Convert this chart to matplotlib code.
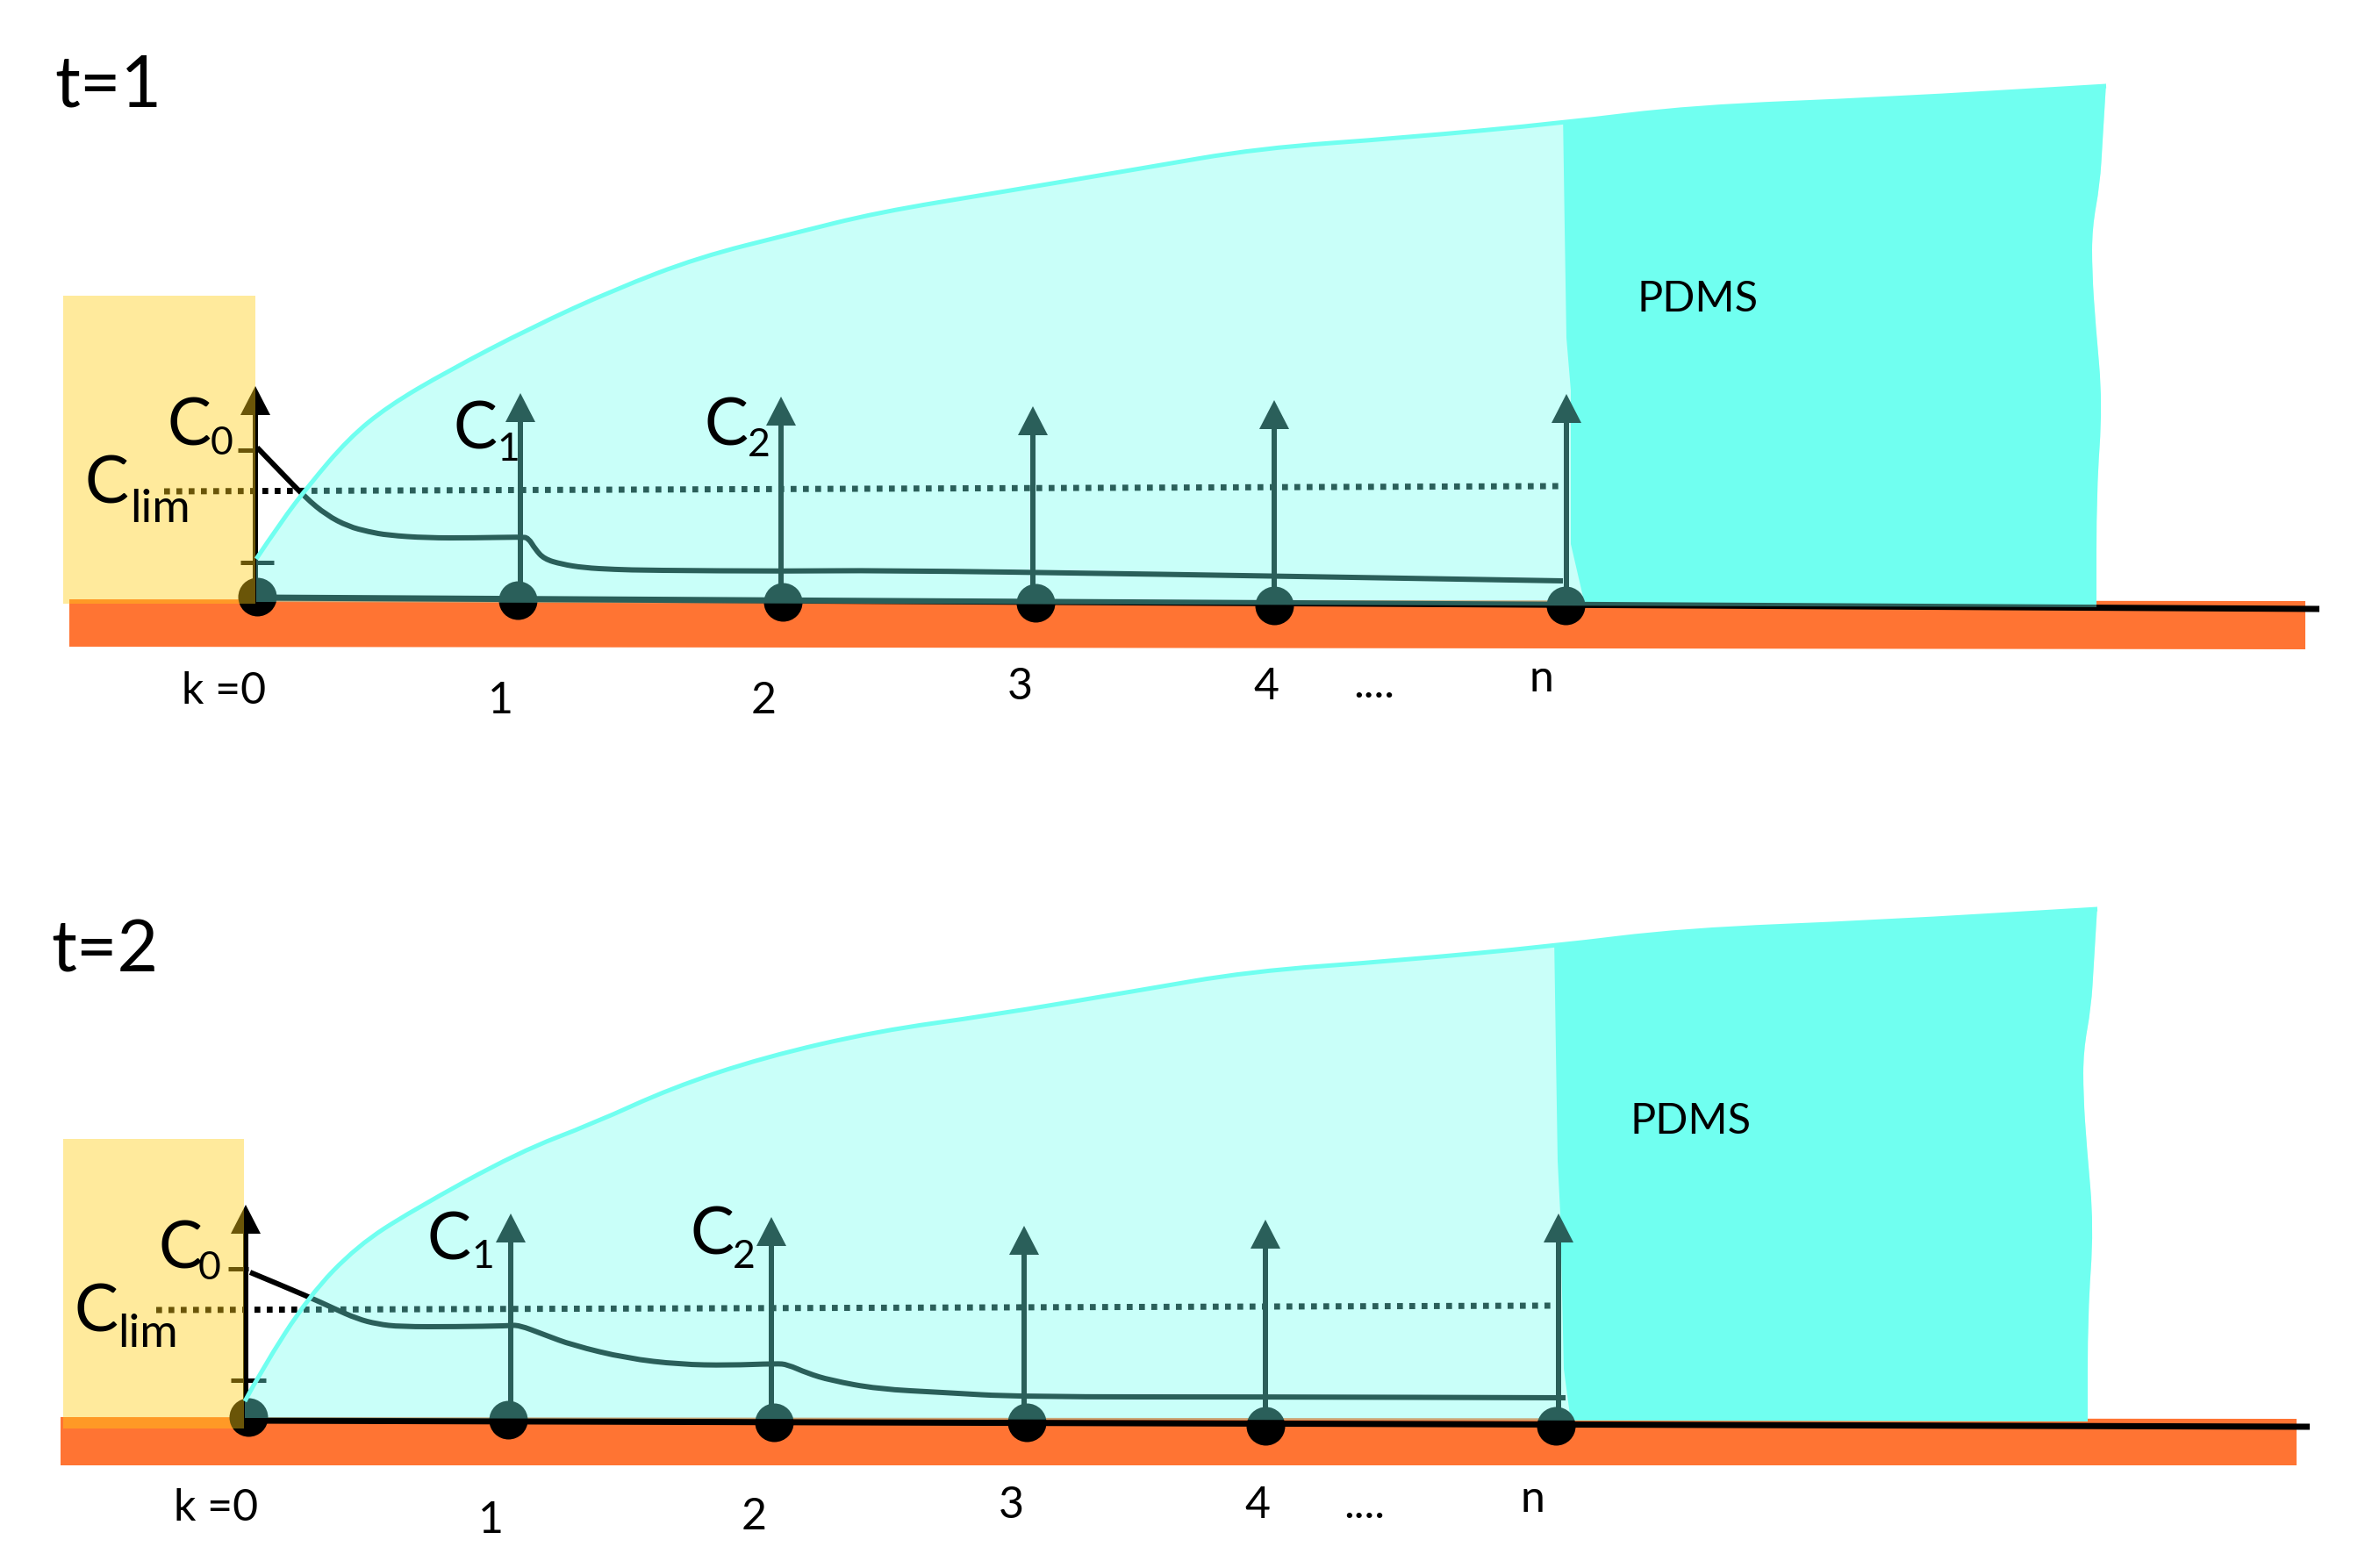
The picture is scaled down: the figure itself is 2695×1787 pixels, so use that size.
import matplotlib
matplotlib.use("Agg")
import matplotlib.pyplot as plt
from matplotlib.path import Path
from matplotlib.patches import PathPatch

plt.rcParams["font.family"] = ["Lato", "DejaVu Sans"]

W, H = 2695, 1787
PX = 72 / 100  # one pixel in points at dpi 100

ORANGE = "#ff7433"
CYAN = (112 / 255, 1.0, 240 / 255)
YELLOW = (1.0, 205 / 255, 20 / 255)

# --- t=1 (x along the channel, y down the page)
t1_site_x = [293, 590, 892, 1180, 1452, 1784]
t1_site_y = [680, 684, 686, 687, 690, 690]
t1_arrow_x = [291, 593, 890, 1177, 1452, 1785]
t1_arrow_tip = [440, 448, 452, 463, 456, 449]
t1_curve_x = [293, 293, 320, 348, 372, 397, 420, 442, 486, 540, 594, 602, 610, 620, 640, 665, 700, 740, 900, 1000, 1300, 1781, 1781]
t1_curve_y = [510, 510, 538, 567, 587, 600, 606, 610, 613, 613, 612, 613, 626, 637, 643, 647, 649, 650, 651, 650, 654, 662, 662]
t1_surface_x = [292, 320, 352, 397, 442, 510, 606, 700, 797, 900, 1000, 1140, 1300, 1434, 1600, 1782, 1928, 2150, 2400, 2400]
t1_surface_y = [637, 595, 553, 500, 463, 423, 373, 330, 293, 267, 242, 219, 192, 169, 157, 140, 122, 113, 98, 98]
t1_pdms_left_x = [1780, 1783, 1785, 1790, 1790, 1806]
t1_pdms_left_y = [60, 260, 385, 445, 620, 689]
t1_pdms_right_x = [2400, 2396, 2393, 2384, 2384, 2388, 2396, 2389, 2389]
t1_pdms_right_y = [94, 160, 210, 260, 310, 370, 460, 560, 692]
t1_limit_x = [187, 1778]
t1_limit_y = [560, 554]

# --- t=2
t2_site_x = [283, 579, 882, 1170, 1442, 1773]
t2_site_y = [1615, 1618, 1621, 1621, 1625, 1625]
t2_arrow_x = [280, 582, 879, 1167, 1442, 1776]
t2_arrow_tip = [1373, 1383, 1387, 1397, 1390, 1383]
t2_curve_x = [285, 285, 352, 380, 407, 430, 456, 520, 579, 591, 620, 652, 714, 775, 830, 885, 897, 920, 946, 1000, 1075, 1161, 1442, 1784, 1784]
t2_curve_y = [1450, 1450, 1478, 1491, 1503, 1509, 1512, 1512, 1511, 1510, 1521, 1533, 1548, 1555, 1556, 1554, 1555, 1565, 1573, 1583, 1587, 1592, 1592, 1593, 1593]
t2_surface_x = [279, 297, 352, 407, 469, 591, 677, 765, 870, 1000, 1130, 1290, 1424, 1590, 1772, 1918, 2140, 2390, 2390]
t2_surface_y = [1597, 1563, 1477, 1420, 1380, 1313, 1280, 1240, 1205, 1175, 1157, 1130, 1107, 1095, 1078, 1060, 1051, 1036, 1036]
t2_pdms_left_x = [1770, 1773, 1775, 1778, 1782, 1790]
t2_pdms_left_y = [1000, 1198, 1323, 1383, 1560, 1620]
t2_pdms_right_x = [2390, 2386, 2383, 2374, 2374, 2378, 2386, 2379, 2379]
t2_pdms_right_y = [1032, 1098, 1148, 1198, 1248, 1308, 1398, 1498, 1620]
t2_limit_x = [178, 1768]
t2_limit_y = [1493, 1488]

site_labels = ["k =0", "1", "2", "3", "4", "....", "n"]


def smooth(xs, ys):
    # quadratic segments through midpoints, so the read points need no extra filling in
    verts = [(xs[0], ys[0])]
    codes = [Path.MOVETO]
    for i in range(1, len(xs) - 1):
        verts.append((xs[i], ys[i]))
        codes.append(Path.CURVE3)
        verts.append(((xs[i] + xs[i + 1]) / 2, (ys[i] + ys[i + 1]) / 2))
        codes.append(Path.CURVE3)
    verts.append((xs[-1], ys[-1]))
    codes.append(Path.LINETO)
    return verts, codes


def draw_panel(ax, site_x, site_y, arrow_x, arrow_tip, curve_x, curve_y,
               surface_x, surface_y, left_x, left_y, right_x, right_y,
               limit_x, limit_y, yellow, orange, base, ticks, overlay_bottom):
    # substrate
    ox0, ox1, oy0, oy1, oy1r = orange
    ax.fill([ox0, ox1, ox1, ox0], [oy0, oy0 + 2, oy1r, oy1], color=ORANGE, lw=0, zorder=1)

    # film outline: top edge, right edge, then back along the substrate
    top_v, top_c = smooth(surface_x, surface_y)
    right_v, right_c = smooth(right_x, right_y)
    right_c[0] = Path.LINETO
    film_v = top_v + right_v + [(surface_x[0], overlay_bottom), (surface_x[0], surface_y[0])]
    film_c = top_c + right_c + [Path.LINETO, Path.CLOSEPOLY]
    film = PathPatch(Path(film_v, film_c), facecolor=CYAN, edgecolor="none", alpha=0.375, zorder=4)
    ax.add_patch(film)

    # solid PDMS block, same colour as the film tint, cut to the film outline
    block_x = left_x + [right_x[-1] + 40, right_x[0] + 40]
    block_y = left_y + [left_y[-1], left_y[0]]
    block = ax.fill(block_x, block_y, color=CYAN, lw=0, zorder=2)[0]
    block.set_clip_path(film.get_path(), film.get_transform())

    # everything below is black ink, tinted by the layers drawn over it
    ax.plot(base[0], base[1], color="black", lw=7 * PX, solid_capstyle="butt", zorder=3)
    ax.plot(limit_x, limit_y, color="black", lw=7 * PX, ls=(0, (0.95, 1.05)), dash_capstyle="butt", zorder=3)
    curve_v, curve_c = smooth(curve_x, curve_y)
    ax.add_patch(PathPatch(Path(curve_v, curve_c), facecolor="none", edgecolor="black", lw=6 * PX, zorder=3))
    for (x0, x1, y) in ticks:
        ax.plot([x0, x1], [y, y], color="black", lw=5 * PX, solid_capstyle="butt", zorder=3)
    for i in range(len(site_x)):
        ax.plot([arrow_x[i], arrow_x[i]], [site_y[i], arrow_tip[i] + 30], color="black", lw=6 * PX,
                solid_capstyle="butt", zorder=3)
        ax.fill([arrow_x[i] - 17, arrow_x[i], arrow_x[i] + 17],
                [arrow_tip[i] + 33, arrow_tip[i], arrow_tip[i] + 33], color="black", lw=0, zorder=3)
    ax.plot(site_x, site_y, "o", color="black", ms=44 * PX, mew=0, zorder=3)

    # droplet
    yx0, yx1, yy0, yy1 = yellow
    ax.fill([yx0, yx1, yx1, yx0], [yy0, yy0, yy1, yy1], color=YELLOW, alpha=0.42, lw=0, zorder=5)

    ax.add_patch(PathPatch(Path(top_v, top_c), facecolor="none", edgecolor=CYAN, lw=5 * PX, zorder=6))


fig = plt.figure(figsize=(W / 100, H / 100), dpi=100)
ax = fig.add_axes([0, 0, 1, 1])
ax.set_xlim(0, W)
ax.set_ylim(H, 0)
ax.axis("off")

draw_panel(ax, t1_site_x, t1_site_y, t1_arrow_x, t1_arrow_tip, t1_curve_x, t1_curve_y,
           t1_surface_x, t1_surface_y, t1_pdms_left_x, t1_pdms_left_y, t1_pdms_right_x, t1_pdms_right_y,
           t1_limit_x, t1_limit_y,
           yellow=(72, 291, 337, 688), orange=(79, 2627, 683, 737, 740),
           base=([293, 2643], [681, 694]),
           ticks=[(271, 293, 513), (274, 312, 641)], overlay_bottom=686)

draw_panel(ax, t2_site_x, t2_site_y, t2_arrow_x, t2_arrow_tip, t2_curve_x, t2_curve_y,
           t2_surface_x, t2_surface_y, t2_pdms_left_x, t2_pdms_left_y, t2_pdms_right_x, t2_pdms_right_y,
           t2_limit_x, t2_limit_y,
           yellow=(72, 278, 1298, 1628), orange=(69, 2617, 1615, 1670, 1670),
           base=([283, 2632], [1619, 1626]),
           ticks=[(260, 283, 1446), (263, 303, 1573)], overlay_bottom=1616)


def label(x, y, s, size):
    ax.text(x, y, s, fontsize=size, color="black", ha="left", va="baseline", zorder=7)


# titles
label(62, 122, "t=1", 58)
label(58, 1107, "t=2", 58)

# concentrations, t=1
label(190, 508, "C", 54)
label(240, 518, "0", 32)
label(96, 573, "C", 54)
label(148, 595, "lim", 38)
label(516, 512, "C", 54)
label(566, 525, "1", 32)
label(803, 508, "C", 54)
label(852, 520, "2", 32)

# concentrations, t=2
label(180, 1445, "C", 54)
label(226, 1458, "0", 32)
label(84, 1518, "C", 54)
label(134, 1535, "lim", 38)
label(486, 1435, "C", 54)
label(537, 1445, "1", 32)
label(786, 1430, "C", 54)
label(835, 1445, "2", 32)

# site numbers
t1_label_pos = [(207, 802), (556, 813), (856, 813), (1148, 797), (1428, 797), (1542, 795), (1742, 788)]
t2_label_pos = [(198, 1733), (545, 1747), (845, 1743), (1138, 1730), (1418, 1730), (1531, 1730), (1733, 1723)]
for s, p1, p2 in zip(site_labels, t1_label_pos, t2_label_pos):
    label(p1[0], p1[1], s, 36)
    label(p2[0], p2[1], s, 36)

label(1866, 355, "PDMS", 35)
label(1858, 1292, "PDMS", 35)

fig.savefig("out.png", dpi=100, facecolor="white")
